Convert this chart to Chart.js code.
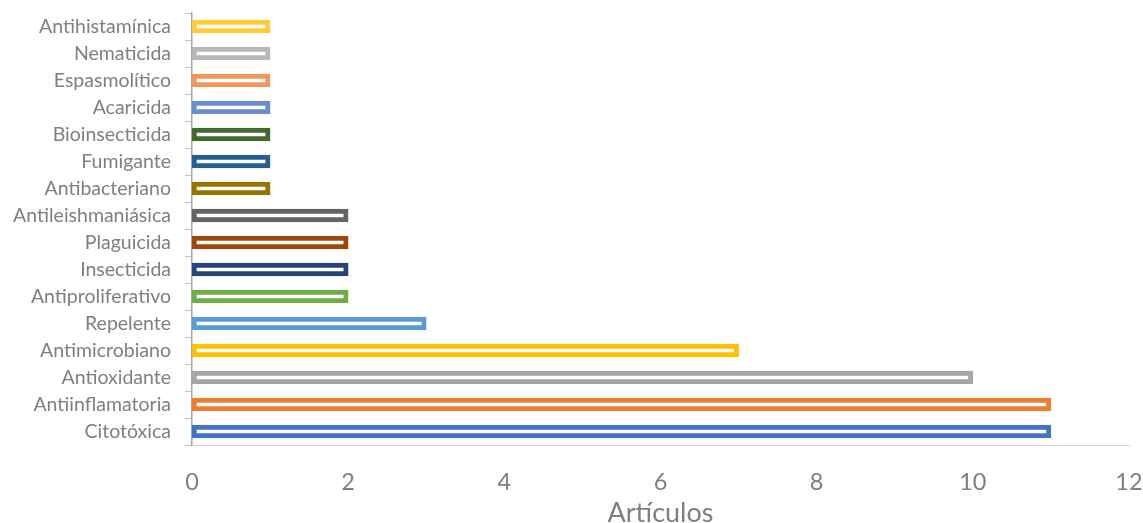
<!DOCTYPE html>
<html>
<head>
<meta charset="utf-8">
<script src="https://cdn.jsdelivr.net/npm/chart.js@4/dist/chart.umd.min.js"></script>
<style>
  html, body { margin: 0; padding: 0; background: #fff; }
  #wrap { width: 1143px; height: 523px; }
</style>
</head>
<body>
<div id="wrap"><canvas id="chart" width="1143" height="523"></canvas></div>
<script>
// categories listed bottom to top
const categories = [
  'Citotóxica', 'Antiinflamatoria', 'Antioxidante', 'Antimicrobiano', 'Repelente',
  'Antiproliferativo', 'Insecticida', 'Plaguicida', 'Antileishmaniásica', 'Antibacteriano',
  'Fumigante', 'Bioinsecticida', 'Acaricida', 'Espasmolítico', 'Nematicida', 'Antihistamínica'
];
const articulos = [11, 11, 10, 7, 3, 2, 2, 2, 2, 1, 1, 1, 1, 1, 1, 1];
const barColors = [
  '#4472C4', '#ED7D31', '#A5A5A5', '#FFC000', '#5B9BD5', '#70AD47', '#264478', '#9E480E',
  '#636363', '#997300', '#255E91', '#43682B', '#698ED0', '#F1975A', '#B7B7B7', '#FFCD33'
];
const xTicks = [0, 2, 4, 6, 8, 10, 12];

const fontFamily = 'Lato, "Open Sans", sans-serif';

new Chart(document.getElementById('chart'), {
  type: 'bar',
  data: {
    labels: categories,
    datasets: [{
      data: articulos,
      backgroundColor: '#ffffff',
      borderColor: barColors,
      borderWidth: 5,
      borderSkipped: false,
      barThickness: 13
    }]
  },
  options: {
    indexAxis: 'y',
    responsive: false,
    animation: false,
    layout: { padding: 0 },
    plugins: { legend: { display: false }, tooltip: { enabled: false } },
    scales: {
      x: {
        min: 0, max: 12,
        afterBuildTicks: s => { s.ticks = xTicks.map(v => ({ value: v })); },
        afterFit: s => { s.height = 78; s.paddingLeft = 0; s.paddingRight = 14; },
        grid: { display: false },
        border: { display: true, color: '#d9d9d9', width: 1 },
        ticks: {
          color: '#7f7f7f', font: { family: fontFamily, size: 23.5, lineHeight: 1 },
          padding: 18, maxRotation: 0, minRotation: 0, autoSkip: false
        },
        title: {
          display: true, text: 'Artículos', color: '#7f7f7f',
          font: { family: fontFamily, size: 27, lineHeight: 0.75 }, padding: { top: 7, bottom: 0 }
        }
      },
      y: {
        reverse: true,
        afterFit: s => { s.width = 192; s.paddingTop = 13; s.paddingBottom = 0; },
        grid: { drawOnChartArea: false, drawTicks: true, tickLength: 7, color: '#bfbfbf' },
        border: { display: true, color: '#a6a6a6', width: 1.5 },
        ticks: {
          color: '#7f7f7f', font: { family: fontFamily, size: 19.5 },
          padding: 14, autoSkip: false
        }
      }
    }
  }
});
</script>
</body>
</html>
